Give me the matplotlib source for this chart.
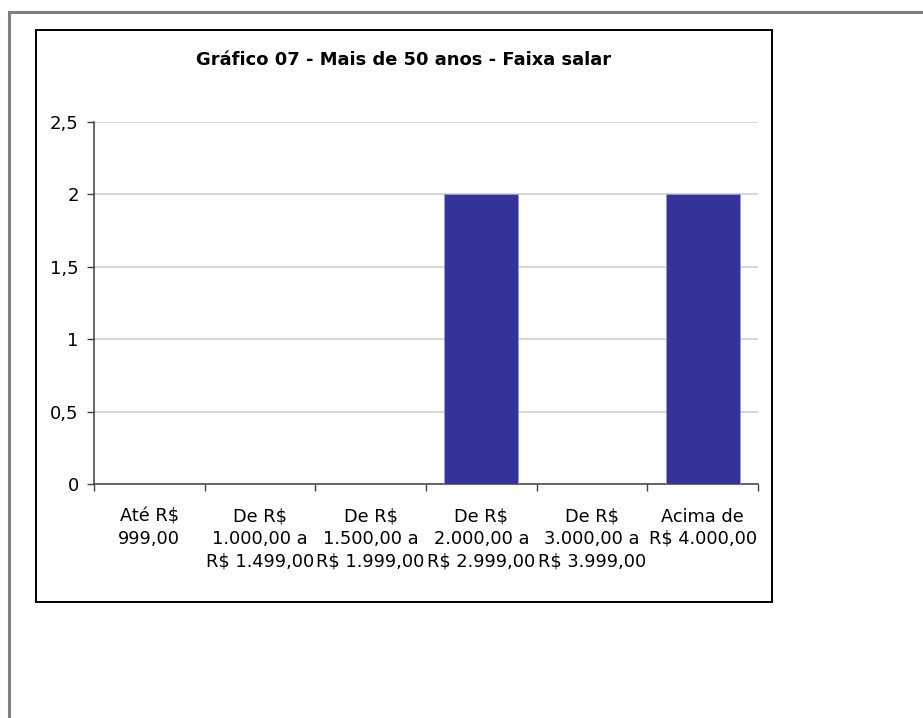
import numpy as np
import matplotlib.pyplot as plt
from matplotlib.patches import Rectangle

# Daten
categorias = [
    "Até R$\n999,00",
    "De R$\n1.000,00 a\nR$ 1.499,00",
    "De R$\n1.500,00 a\nR$ 1.999,00",
    "De R$\n2.000,00 a\nR$ 2.999,00",
    "De R$\n3.000,00 a\nR$ 3.999,00",
    "Acima de\nR$ 4.000,00",
]
valores = [0, 0, 0, 2, 0, 2]
y_ticks = [0, 0.5, 1, 1.5, 2, 2.5]
y_labels = ["0", "0,5", "1", "1,5", "2", "2,5"]
titulo = "Gráfico 07 - Mais de 50 anos - Faixa salar"

W, H = 923, 718


def px(x0, y0, x1, y1):
    """Pixelbox (oben links) -> Figurkoordinaten."""
    return [x0 / W, 1 - y1 / H, (x1 - x0) / W, (y1 - y0) / H]


fig = plt.figure(figsize=(W / 100, H / 100), dpi=100)
fig.patch.set_facecolor("white")

# aeusserer grauer Rahmen (laeuft rechts und unten aus dem Bild)
fig.add_artist(Rectangle((9 / W, -0.1), 1.2, 1 - 12 / H + 0.1, transform=fig.transFigure,
                         fill=False, edgecolor="#808080", linewidth=2.2))
# Diagrammrahmen
b = px(36, 30, 772, 602)
fig.add_artist(Rectangle((b[0], b[1]), b[2], b[3], transform=fig.transFigure,
                         fill=False, edgecolor="black", linewidth=1.4))

ax = fig.add_axes(px(94, 122, 758, 484))
x = np.arange(len(categorias))
ax.bar(x, valores, width=0.667, color="#333399", edgecolor="#9999cc", linewidth=0.6, zorder=3)

ax.set_xlim(-0.5, len(categorias) - 0.5)
ax.set_ylim(0, 2.5)
ax.set_yticks(y_ticks)
ax.set_yticklabels(y_labels)
ax.yaxis.grid(True, color="#d0d0d0", linewidth=1.2, zorder=0)
ax.set_axisbelow(True)

ax.set_xticks(np.arange(len(categorias) + 1) - 0.5)
ax.set_xticklabels([])
ax.set_xticks(x, minor=True)
ax.set_xticklabels(categorias, minor=True, fontsize=12.8, linespacing=1.3)
ax.tick_params(axis="x", which="minor", length=0, pad=17)
ax.tick_params(axis="x", which="major", length=5, width=1, color="#404040", direction="out")
ax.tick_params(axis="y", length=5, width=1, color="#404040", labelsize=13, pad=6)

for s in ["top", "right"]:
    ax.spines[s].set_visible(False)
for s in ["left", "bottom"]:
    ax.spines[s].set_color("#404040")
    ax.spines[s].set_linewidth(1.1)

fig.text((36 + 772) / 2 / W, 1 - 60 / H, titulo, ha="center", va="center",
         fontsize=12.9, fontweight="bold")

fig.savefig("out.png", dpi=100)
